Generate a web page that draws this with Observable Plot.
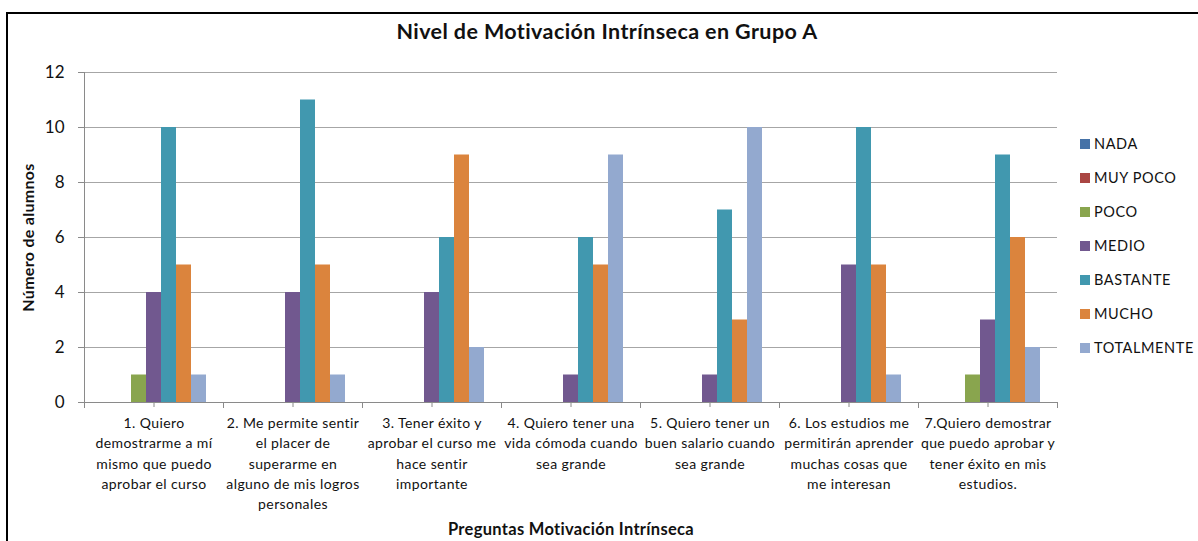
<!DOCTYPE html>
<html>
<head>
<meta charset="utf-8">
<script src="https://cdn.jsdelivr.net/npm/d3@7"></script>
<script src="https://cdn.jsdelivr.net/npm/@observablehq/plot@0.6"></script>
<style>
  html, body { margin: 0; padding: 0; background: #fff; overflow: hidden; }
  body { width: 1198px; height: 541px; position: relative; font-family: Lato, "Open Sans", sans-serif; color: #000; }
  #border { position: absolute; left: 6px; top: 12px; width: 1200px; height: 540px; border: 2px solid #000; box-sizing: border-box; }
  #chart { position: absolute; left: 0; top: 0; }
  #title { position: absolute; left: 0; top: 18px; width: 1214px; text-align: center; font-weight: bold; font-size: 21.5px; letter-spacing: 0.4px; color: #111; }
  #legend { position: absolute; left: 1080px; top: 0; }
  .item { position: absolute; left: 0; white-space: nowrap; font-size: 14.5px; color: #111; letter-spacing: 0.6px; }
  .sw { display: inline-block; width: 10px; height: 10px; margin-right: 4px; vertical-align: 0px; }
  g[aria-label="fx-axis label"] text { font-weight: bold; font-size: 16.5px; letter-spacing: 0.3px; }
  g[aria-label="y-axis label"] text { font-weight: bold; font-size: 16px; letter-spacing: 0.3px; }
  g[aria-label="fx-axis tick label"] text { letter-spacing: 0.4px; }
</style>
</head>
<body>
<div id="border"></div>
<div id="chart"></div>
<div id="title">Nivel de Motivación Intrínseca en Grupo A</div>
<div id="legend"></div>
<script>
// ---- data ----
const questions = [
  "1. Quiero\ndemostrarme a mí\nmismo que puedo\naprobar el curso",
  "2. Me permite sentir\nel placer de\nsuperarme en\nalguno de mis logros\npersonales",
  "3. Tener éxito y\naprobar el curso me\nhace sentir\nimportante",
  "4. Quiero tener una\nvida cómoda cuando\nsea grande",
  "5. Quiero tener un\nbuen salario cuando\nsea grande",
  "6. Los estudios me\npermitirán aprender\nmuchas cosas que\nme interesan",
  "7.Quiero demostrar\nque puedo aprobar y\ntener éxito en mis\nestudios."
];
const series = ["NADA", "MUY POCO", "POCO", "MEDIO", "BASTANTE", "MUCHO", "TOTALMENTE"];
const nada       = [0, 0, 0, 0, 0, 0, 0];
const muyPoco    = [0, 0, 0, 0, 0, 0, 0];
const poco       = [1, 0, 0, 0, 0, 0, 1];
const medio      = [4, 4, 4, 1, 1, 5, 3];
const bastante   = [10, 11, 6, 6, 7, 10, 9];
const mucho      = [5, 5, 9, 5, 3, 5, 6];
const totalmente = [1, 1, 2, 9, 10, 1, 2];
const yTicks = [0, 2, 4, 6, 8, 10, 12];
const colors = ["#4572A7", "#AA4643", "#89A54E", "#71588F", "#4198AF", "#DB843D", "#93A9CF"];

// ---- table ----
const valuesBySeries = [nada, muyPoco, poco, medio, bastante, mucho, totalmente];
const data = [];
questions.forEach((q, qi) => {
  series.forEach((s, si) => {
    data.push({question: q, serie: s, value: valuesBySeries[si][qi]});
  });
});

const gray = "#8a8a8a";
const chart = Plot.plot({
  width: 1198,
  height: 541,
  marginLeft: 83,
  marginRight: 141,
  marginTop: 72,
  marginBottom: 139,
  style: {fontFamily: "Lato, 'Open Sans', sans-serif", fontSize: "13px", color: "#111", background: "transparent"},
  fx: {domain: questions, paddingInner: 0, paddingOuter: 0, label: null},
  x: {domain: series, paddingInner: 0, paddingOuter: 0.848, axis: null},
  y: {domain: [0, 12], label: null},
  color: {domain: series, range: colors},
  marks: [
    Plot.gridY(yTicks, {stroke: "#a6a6a6", strokeOpacity: 1}),
    Plot.barY(data, {fx: "question", x: "serie", y: "value", fill: "serie"}),
    Plot.ruleY([0], {stroke: gray}),
    Plot.frame({anchor: "left", facetAnchor: "left", stroke: gray}),
    Plot.frame({anchor: "left", stroke: gray, insetTop: 330, insetBottom: -5}),
    Plot.frame({anchor: "right", stroke: gray, insetTop: 330, insetBottom: -5}),
    Plot.axisY({ticks: yTicks, tickSize: 6, tickPadding: 14, fontSize: 17, stroke: gray,
      label: "Número de alumnos", labelAnchor: "center", labelArrow: "none", labelOffset: 62}),
    Plot.axisFx({anchor: "bottom", tickSize: 5, tickPadding: 6, fontSize: 14, lineHeight: 1.45, stroke: gray,
      label: "Preguntas Motivación Intrínseca", labelAnchor: "center", labelArrow: "none", labelOffset: 132})
  ]
});
document.getElementById("chart").appendChild(chart);

// ---- legend ----
const legend = document.getElementById("legend");
const legendTop = [135, 169, 203, 237, 271, 305, 339];
series.forEach((s, i) => {
  const item = document.createElement("div");
  item.className = "item";
  item.style.top = legendTop[i] + "px";
  item.innerHTML = `<span class="sw" style="background:${colors[i]}"></span>${s}`;
  legend.appendChild(item);
});
</script>
</body>
</html>
